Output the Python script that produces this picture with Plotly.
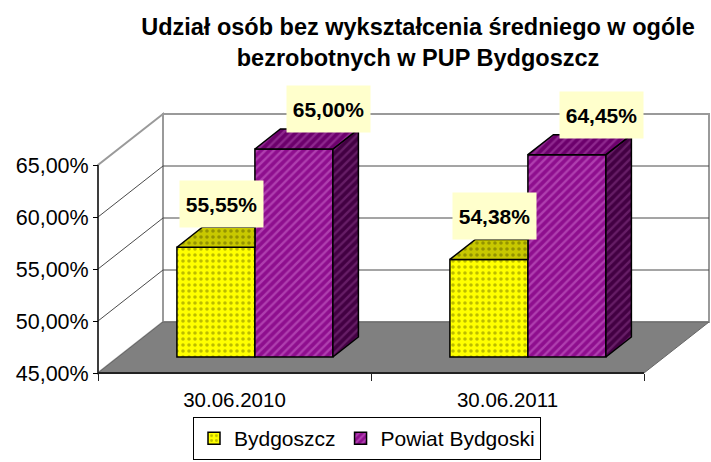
import plotly.graph_objects as go

# ---------------- data ----------------
categories = ["30.06.2010", "30.06.2011"]
series_names = ["Bydgoszcz", "Powiat Bydgoski"]
bydgoszcz = [55.55, 54.38]
powiat = [65.00, 64.45]
y_ticks = [45, 50, 55, 60, 65]
title_text = "Udział osób bez wykształcenia średniego w ogóle<br>bezrobotnych w PUP Bydgoszcz"


def pct(v):
    return f"{v:.2f}".replace(".", ",") + "%"


y_tick_text = [pct(t) for t in y_ticks]

# ---------------- style / 3D projection constants ----------------
W, H = 711, 462
PX_U = 273.0          # pixels per category unit (front plane)
PX_V = 10.4           # pixels per percentage point
X0_PX = 98            # left edge of front plane (pixels)
Y0_PX = 373           # baseline of front plane (pixels from top)
DX = 65 / PX_U        # full depth offset in x (category units)
DY = 51 / PX_V        # full depth offset in y (value units)
T0, T1 = 0.314, 0.706 # bar front / back depth
BAR_W = 78 / PX_U
FONT = "Liberation Sans, Arial, sans-serif"
y_lo, y_hi = min(y_ticks), max(y_ticks)
n = len(categories)

x_range = [-X0_PX / PX_U, (W - X0_PX) / PX_U]
y_range = [y_lo - (H - Y0_PX) / PX_V, y_lo + Y0_PX / PX_V]

styles = [
    dict(front="#FFFF00", front_fg="#7A7A00", top="#C8C800", top_fg="#5E5E00",
         side="#A0A000", side_fg="#5A5A00", shape=".", size=6, sol=0.28,
         lab_dx=-7 / PX_U, lab_dy=3.2),
    dict(front="#8E0E8E", front_fg="#D070D0", top="#6C006C", top_fg="#B050B0",
         side="#420042", side_fg="#8A3A8A", shape="/", size=6, sol=0.4,
         lab_dx=22 / PX_U, lab_dy=2.85),
]
series_vals = [bydgoszcz, powiat]


def P(u, v, t):
    return u + t * DX, v + t * DY


def path(points):
    return "M " + " L ".join(f"{x},{y}" for x, y in points) + " Z"


fig = go.Figure()
shapes = []

# walls and floor
left_wall = [P(0, y_lo, 0), P(0, y_hi, 0), P(0, y_hi, 1), P(0, y_lo, 1)]
back_wall = [P(0, y_lo, 1), P(0, y_hi, 1), P(n, y_hi, 1), P(n, y_lo, 1)]
floor = [P(0, y_lo, 0), P(n, y_lo, 0), P(n, y_lo, 1), P(0, y_lo, 1)]
for pts, fill in [(left_wall, "white"), (back_wall, "white")]:
    shapes.append(dict(type="path", path=path(pts), xref="x", yref="y",
                       fillcolor=fill, line=dict(color="#9A9A9A", width=2), layer="below"))
shapes.append(dict(type="path", path=path(floor), xref="x", yref="y",
                   fillcolor="#808080", line=dict(color="#666666", width=1), layer="below"))
# gridlines on side and back walls
for t in y_ticks[1:-1]:
    a, b, c = P(0, t, 0), P(0, t, 1), P(n, t, 1)
    shapes.append(dict(type="path", path=f"M {a[0]},{a[1]} L {b[0]},{b[1]} L {c[0]},{c[1]}",
                       xref="x", yref="y", line=dict(color="#4A4A4A", width=1), layer="below"))
# front axis lines
a, b = P(0, y_lo, 0), P(0, y_hi, 0)
shapes.append(dict(type="line", x0=a[0], y0=a[1], x1=b[0], y1=b[1], xref="x", yref="y",
                   line=dict(color="black", width=1.2), layer="below"))
a, b = P(0, y_lo, 0), P(n, y_lo, 0)
shapes.append(dict(type="line", x0=a[0], y0=a[1], x1=b[0], y1=b[1], xref="x", yref="y",
                   line=dict(color="#222222", width=2), layer="below"))

annotations = []
dd = (T1 - T0) * DX
for s, (name, vals, st) in enumerate(zip(series_names, series_vals, styles)):
    lefts = [i + 0.5 - BAR_W + s * BAR_W + T0 * DX for i in range(n)]
    base = y_lo + T0 * DY
    fig.add_trace(go.Bar(
        x=[l + BAR_W / 2 for l in lefts], y=[v - y_lo for v in vals], base=base,
        width=BAR_W, name=name,
        marker=dict(color=st["front"], line=dict(color="black", width=1.5),
                    pattern=dict(shape=st["shape"], fgcolor=st["front_fg"],
                                 size=st["size"], solidity=st["sol"])),
        customdata=vals, hovertemplate="%{customdata:.2f}%<extra>" + name + "</extra>",
    ))
    for i, (l, v) in enumerate(zip(lefts, vals)):
        y0 = v + T0 * DY
        y1 = v + T1 * DY
        r = l + BAR_W
        if s < len(series_names) - 1:
            # top face, clipped where the next bar's front face hides it
            top = [(l, y0), (r, y0), (r, y1), (l + dd, y1)]
            faces = [(top, st["top"], st["top_fg"])]
        else:
            top = [(l, y0), (r, y0), (r + dd, y1), (l + dd, y1)]
            side = [(r, base), (r, y0), (r + dd, y1), (r + dd, y_lo + T1 * DY)]
            faces = [(side, st["side"], st["side_fg"]), (top, st["top"], st["top_fg"])]
        for pts, col, fg in faces:
            xs = [p[0] for p in pts] + [pts[0][0]]
            ys = [p[1] for p in pts] + [pts[0][1]]
            fig.add_trace(go.Scatter(
                x=xs, y=ys, mode="lines", fill="toself", fillcolor=col,
                fillpattern=dict(shape=st["shape"], fgcolor=fg, size=st["size"], solidity=st["sol"]),
                line=dict(color="black", width=1.5), showlegend=False, hoverinfo="skip"))
        cx = l + BAR_W / 2 + dd / 2 + st["lab_dx"]
        cy = v + (T0 + T1) / 2 * DY + st["lab_dy"]
        annotations.append(dict(
            x=cx, y=cy, xref="x", yref="y", showarrow=False,
            text=pct(v),
            font=dict(family=FONT, size=21, color="black", weight="bold"),
            bgcolor="#FFFFCC", width=81, height=44, align="center", valign="middle"))

fig.update_layout(
    width=W, height=H,
    margin=dict(l=0, r=0, t=0, b=0),
    paper_bgcolor="white", plot_bgcolor="rgba(0,0,0,0)",
    font=dict(family=FONT, size=21, color="black"),
    title=dict(text=title_text, x=418 / W, xanchor="center", y=1 - 35 / H, yanchor="middle",
               font=dict(family=FONT, size=23.5, color="black", weight="bold")),
    shapes=shapes, annotations=annotations,
    showlegend=True,
    legend=dict(orientation="h", x=367 / W, xanchor="center", y=2 / H, yanchor="bottom",
                bordercolor="black", borderwidth=1, bgcolor="white",
                font=dict(family=FONT, size=21), itemwidth=30, traceorder="normal"),
    xaxis=dict(range=x_range, domain=[0, 1], anchor="free", position=(H - Y0_PX) / H,
               showgrid=False, zeroline=False, showline=False, automargin=False,
               tickvals=[i + 0.5 for i in range(n)], ticktext=categories,
               ticks="outside", ticklen=8, tickcolor="rgba(0,0,0,0)",
               tickfont=dict(family=FONT, size=20.5),
               minor=dict(tickvals=list(range(n + 1)), ticks="outside", ticklen=7,
                          tickcolor="#222222", tickwidth=1, showgrid=False),
               fixedrange=True),
    yaxis=dict(range=y_range, domain=[0, 1], anchor="free", position=X0_PX / W,
               showgrid=False, zeroline=False, showline=False, automargin=False,
               tickvals=y_ticks, ticktext=y_tick_text,
               ticks="outside", ticklen=5, tickcolor="black",
               tickfont=dict(family=FONT, size=21.5), fixedrange=True),
)

fig.write_html("out.html", config={"displayModeBar": False},
               post_script="document.body.style.margin='0';")
